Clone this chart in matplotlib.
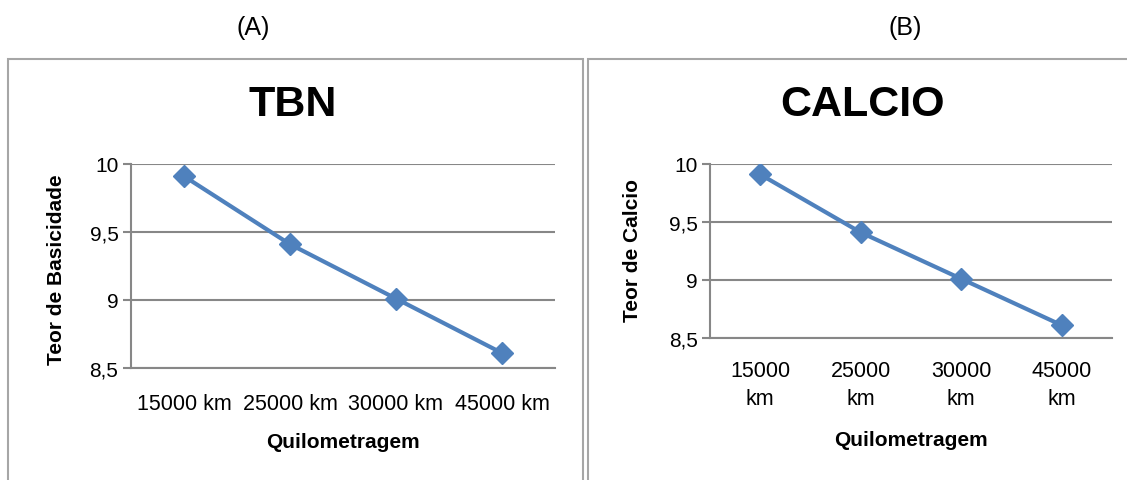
import matplotlib
matplotlib.use("Agg")
import matplotlib.pyplot as plt
from matplotlib.patches import Rectangle

plt.rcParams['font.family'] = ['Liberation Sans Narrow', 'Liberation Sans', 'DejaVu Sans']

categories_a = ["15000 km", "25000 km", "30000 km", "45000 km"]
categories_b = ["15000\nkm", "25000\nkm", "30000\nkm", "45000\nkm"]
tbn = [9.91, 9.41, 9.01, 8.61]
calcio = [9.91, 9.41, 9.01, 8.61]
yticks = [8.5, 9, 9.5, 10]
ytick_labels = ["8,5", "9", "9,5", "10"]

W, H = 1127, 481
fig = plt.figure(figsize=(W / 100, H / 100), dpi=100)

blue = "#4F81BD"
grid = "#878787"
frame = "#A6A6A6"


def px(x, y):
    return x / W, 1 - y / H


# panel frames
for x0, x1 in [(8, 583), (588, 1130)]:
    fx0, fy0 = px(x0, 500)
    fx1, fy1 = px(x1, 60)
    fig.add_artist(Rectangle((fx0, fy0), fx1 - fx0, fy1 - fy0, transform=fig.transFigure,
                             fill=False, edgecolor=frame, lw=1.5))


def panel(rect, cats, vals, title, ylabel, tx, ty, ylx, yly, xly, tpad):
    ax = fig.add_axes(rect)
    x = range(len(cats))
    ax.plot(x, vals, color=blue, lw=3, marker="D", ms=11, mec=blue, mfc=blue, zorder=3)
    ax.set_xlim(-0.5, len(cats) - 0.5)
    ax.set_ylim(8.5, 10)
    ax.set_yticks(yticks)
    ax.set_yticklabels(ytick_labels, fontsize=15)
    ax.set_xticks(list(x))
    ax.set_xticklabels(cats, fontsize=15.5, linespacing=1.45)
    ax.tick_params(axis="x", length=0, pad=tpad)
    ax.tick_params(axis="y", length=6, width=1.5, color=grid, pad=3)
    ax.grid(axis="y", color=grid, lw=1.5)
    for s in ["top", "right"]:
        ax.spines[s].set_visible(False)
    ax.spines["left"].set_color(grid)
    ax.spines["left"].set_linewidth(1.5)
    ax.spines["bottom"].set_color(grid)
    ax.spines["bottom"].set_linewidth(1.5)
    ax.set_axisbelow(True)
    fig.text(*px((rect[0] + rect[2] / 2) * W, xly), "Quilometragem", fontsize=15,
             fontweight="bold", ha="center", va="center")
    fig.text(*px(tx, ty), title, fontsize=31, fontweight="bold", ha="center", va="center")
    fig.text(*px(ylx, yly), ylabel, fontsize=15, fontweight="bold", ha="center", va="center",
             rotation=90)
    return ax


panel([131 / W, 1 - 369 / H, 424 / W, 204 / H], categories_a, tbn, "TBN",
      "Teor de Basicidade", 293, 105, 57, 270, 442, 18)
panel([710 / W, 1 - 339 / H, 402 / W, 174 / H], categories_b, calcio, "CALCIO",
      "Teor de Calcio", 863, 105, 633, 250, 440, 16)

fig.text(*px(253, 28), "(A)", fontsize=18, ha="center", va="center")
fig.text(*px(905, 28), "(B)", fontsize=18, ha="center", va="center")

fig.savefig("out.png", dpi=100)
